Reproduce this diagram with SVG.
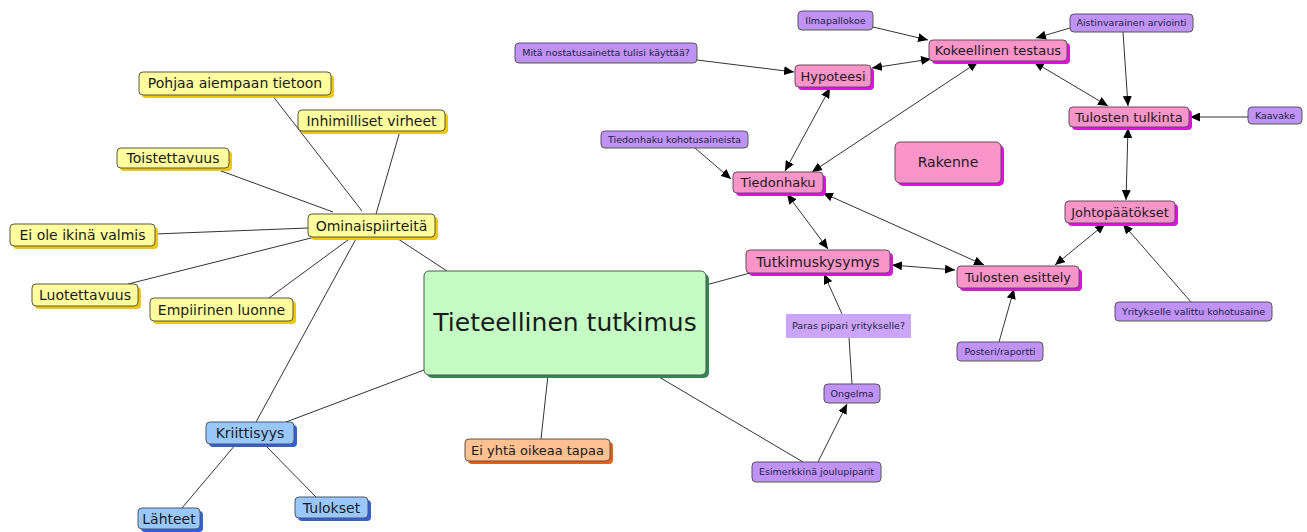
<svg xmlns="http://www.w3.org/2000/svg" width="1307" height="532" viewBox="0 0 1307 532">
<style>
text{font-family:"DejaVu Sans","Verdana",sans-serif;text-anchor:middle;fill:#1a1a1a}
.b{stroke:#555;stroke-width:1}
.y{fill:#ffff9e}.ys{fill:#f0c800}
.p{fill:#fb94c8}.ps{fill:#e010e0}
.u{fill:#bf92f7}
.bl{fill:#99c8ff}.bls{fill:#3060e0}
.o{fill:#ffc092}.os{fill:#e86010}
.g{fill:#c4fcc4}.gs{fill:#2e8a50}
.t14{font-size:14px}.t13{font-size:13px}.t9{font-size:9.5px;fill:#222240}
.c line{stroke:#333;stroke-width:1;fill:none}
.a{marker-end:url(#ah)}
.d{marker-start:url(#ah);marker-end:url(#ah)}
</style>
<defs>
<marker id="ah" markerUnits="userSpaceOnUse" markerWidth="11" markerHeight="9" refX="10" refY="4.5" orient="auto-start-reverse">
<path d="M0,0 L10,4.5 L0,9 Z" fill="#000"/>
</marker>
</defs>
<g class="c" id="connectors">
<line x1="362" y1="211" x2="272" y2="95"/>
<line x1="376" y1="214" x2="400" y2="131"/>
<line x1="333" y1="212" x2="213" y2="168"/>
<line x1="308" y1="228" x2="155" y2="234"/>
<line x1="315" y1="237" x2="128" y2="284"/>
<line x1="352" y1="237" x2="269" y2="298"/>
<line x1="357" y1="237" x2="256" y2="422"/>
<line x1="395" y1="237" x2="447" y2="271"/>
<line x1="424" y1="370" x2="286" y2="422"/>
<line x1="236" y1="444" x2="182" y2="508"/>
<line x1="264" y1="444" x2="316" y2="497"/>
<line x1="548" y1="375" x2="541" y2="439"/>
<line x1="706" y1="285" x2="750" y2="273"/>
<line x1="659" y1="377" x2="803" y2="462"/>
<line x1="852" y1="384" x2="849" y2="338"/>
<line class="a" x1="818" y1="462" x2="847" y2="404"/>
<line class="a" x1="842" y1="314" x2="824" y2="274"/>
<line class="a" x1="999" y1="342" x2="1014" y2="289"/>
<line class="a" x1="1191" y1="302" x2="1123" y2="224"/>
<line class="a" x1="1248" y1="117" x2="1190" y2="117"/>
<line class="a" x1="1123" y1="32" x2="1128" y2="106"/>
<line class="a" x1="1070" y1="28" x2="1036" y2="38"/>
<line class="a" x1="873" y1="27" x2="928" y2="40"/>
<line class="a" x1="697" y1="60" x2="794" y2="72"/>
<line class="a" x1="695" y1="148" x2="731" y2="179"/>
<line class="d" x1="892" y1="265" x2="955" y2="270"/>
<line class="d" x1="787" y1="194" x2="828" y2="249"/>
<line class="d" x1="823" y1="193" x2="984" y2="265"/>
<line class="d" x1="1055" y1="265" x2="1105" y2="224"/>
<line class="d" x1="1128" y1="128" x2="1126" y2="200"/>
<line class="d" x1="1034" y1="62" x2="1108" y2="106"/>
<line class="d" x1="872" y1="68" x2="931" y2="59"/>
<line class="d" x1="830" y1="88" x2="785" y2="171"/>
<line class="d" x1="812" y1="172" x2="978" y2="62"/>
</g>
<g id="n-central"><rect class="gs" x="427" y="274" width="282" height="104" rx="5"/><rect class="g b" x="424" y="271" width="282" height="104" rx="5"/><text x="565" y="331" style="font-size:25px">Tieteellinen tutkimus</text></g>
<g id="n-pohjaa"><rect class="ys" x="142" y="75" width="192" height="23" rx="4"/><rect class="y b" x="139" y="72" width="192" height="23" rx="4"/><text class="t14" x="235" y="88">Pohjaa aiempaan tietoon</text></g>
<g id="n-inhim"><rect class="ys" x="301" y="113" width="147" height="21" rx="4"/><rect class="y b" x="298" y="110" width="147" height="21" rx="4"/><text class="t14" x="371.5" y="125.5">Inhimilliset virheet</text></g>
<g id="n-toist"><rect class="ys" x="120" y="151" width="112" height="20" rx="4"/><rect class="y b" x="117" y="148" width="112" height="20" rx="4"/><text class="t14" x="173" y="163">Toistettavuus</text></g>
<g id="n-omin"><rect class="ys" x="311" y="217" width="127" height="23" rx="4"/><rect class="y b" x="308" y="214" width="127" height="23" rx="4"/><text class="t14" x="371.5" y="230.5">Ominaispiirteitä</text></g>
<g id="n-eiole"><rect class="ys" x="13" y="227" width="145" height="22" rx="4"/><rect class="y b" x="10" y="224" width="145" height="22" rx="4"/><text class="t14" x="82.5" y="240">Ei ole ikinä valmis</text></g>
<g id="n-luot"><rect class="ys" x="35" y="287" width="106" height="22" rx="4"/><rect class="y b" x="32" y="284" width="106" height="22" rx="4"/><text class="t14" x="85" y="300">Luotettavuus</text></g>
<g id="n-empi"><rect class="ys" x="153" y="301" width="143" height="23" rx="4"/><rect class="y b" x="150" y="298" width="143" height="23" rx="4"/><text class="t14" x="221.5" y="314.5">Empiirinen luonne</text></g>
<g id="n-kriit"><rect class="bls" x="209" y="425" width="88" height="22" rx="4"/><rect class="bl b" x="206" y="422" width="88" height="22" rx="4"/><text class="t14" x="250" y="438">Kriittisyys</text></g>
<g id="n-lahteet"><rect class="bls" x="141" y="511" width="62" height="21" rx="4"/><rect class="bl b" x="138" y="508" width="62" height="21" rx="4"/><text class="t14" x="169" y="523.5">Lähteet</text></g>
<g id="n-tulokset"><rect class="bls" x="298" y="500" width="73" height="21" rx="4"/><rect class="bl b" x="295" y="497" width="73" height="21" rx="4"/><text class="t14" x="331.5" y="512.5">Tulokset</text></g>
<g id="n-eiyhta"><rect class="os" x="468" y="442" width="145" height="22" rx="4"/><rect class="o b" x="465" y="439" width="145" height="22" rx="4"/><text class="t13" x="537.5" y="454.5">Ei yhtä oikeaa tapaa</text></g>
<g id="n-hypo"><rect class="ps" x="798" y="68" width="76" height="22" rx="4"/><rect class="p b" x="795" y="65" width="76" height="22" rx="4"/><text class="t13" x="833" y="80.5">Hypoteesi</text></g>
<g id="n-tiedon"><rect class="ps" x="736" y="175" width="90" height="21" rx="4"/><rect class="p b" x="733" y="172" width="90" height="21" rx="4"/><text class="t13" x="778" y="187">Tiedonhaku</text></g>
<g id="n-kokeel"><rect class="ps" x="932" y="43" width="138" height="21" rx="4"/><rect class="p b" x="929" y="40" width="138" height="21" rx="4"/><text class="t13" x="998" y="55">Kokeellinen testaus</text></g>
<g id="n-tulkinta"><rect class="ps" x="1072" y="110" width="120" height="20" rx="4"/><rect class="p b" x="1069" y="107" width="120" height="20" rx="4"/><text class="t13" x="1129" y="121.5">Tulosten tulkinta</text></g>
<g id="n-johto"><rect class="ps" x="1068" y="204" width="110" height="22" rx="4"/><rect class="p b" x="1065" y="201" width="110" height="22" rx="4"/><text class="t13" x="1120" y="216.5">Johtopäätökset</text></g>
<g id="n-tutkimus"><rect class="ps" x="749" y="253" width="144" height="23" rx="4"/><rect class="p b" x="746" y="250" width="144" height="23" rx="4"/><text class="t14" x="818" y="266.5">Tutkimuskysymys</text></g>
<g id="n-esittely"><rect class="ps" x="960" y="269" width="122" height="22" rx="4"/><rect class="p b" x="957" y="266" width="122" height="22" rx="4"/><text class="t13" x="1018" y="281.5">Tulosten esittely</text></g>
<g id="n-rakenne"><rect class="ps" x="898" y="145" width="106" height="41" rx="5"/><rect class="p b" x="895" y="142" width="106" height="41" rx="5"/><text class="t14" x="948" y="167">Rakenne</text></g>
<g id="n-ilma"><rect class="u b" x="798" y="11" width="75" height="19" rx="4"/><text class="t9" x="835.5" y="23.5">Ilmapallokoe</text></g>
<g id="n-mita"><rect class="u b" x="515" y="43" width="182" height="20" rx="4"/><text class="t9" x="606" y="56">Mitä nostatusainetta tulisi käyttää?</text></g>
<g id="n-tkohot"><rect class="u b" x="601" y="131" width="147" height="17" rx="4"/><text class="t9" x="674.5" y="142.8">Tiedonhaku kohotusaineista</text></g>
<g id="n-aistin"><rect class="u b" x="1070" y="14" width="123" height="18" rx="4"/><text class="t9" x="1131.5" y="26.3">Aistinvarainen arviointi</text></g>
<g id="n-kaavake"><rect class="u b" x="1248" y="107" width="54" height="17" rx="4"/><text class="t9" x="1275" y="118.8">Kaavake</text></g>
<g id="n-paras"><rect x="786" y="314" width="125" height="24" fill="#cba5fa"/><text class="t9" x="848.5" y="329.3">Paras pipari yritykselle?</text></g>
<g id="n-posteri"><rect class="u b" x="957" y="342" width="86" height="19" rx="4"/><text class="t9" x="1000" y="354.8">Posteri/raportti</text></g>
<g id="n-yritys"><rect class="u b" x="1115" y="302" width="157" height="19" rx="4"/><text class="t9" x="1193.5" y="314.8">Yritykselle valittu kohotusaine</text></g>
<g id="n-ongelma"><rect class="u b" x="824" y="384" width="56" height="19" rx="4"/><text class="t9" x="852" y="396.8">Ongelma</text></g>
<g id="n-esim"><rect class="u b" x="752" y="462" width="129" height="20" rx="4"/><text class="t9" x="816.5" y="475.3">Esimerkkinä joulupiparit</text></g>
</svg>
